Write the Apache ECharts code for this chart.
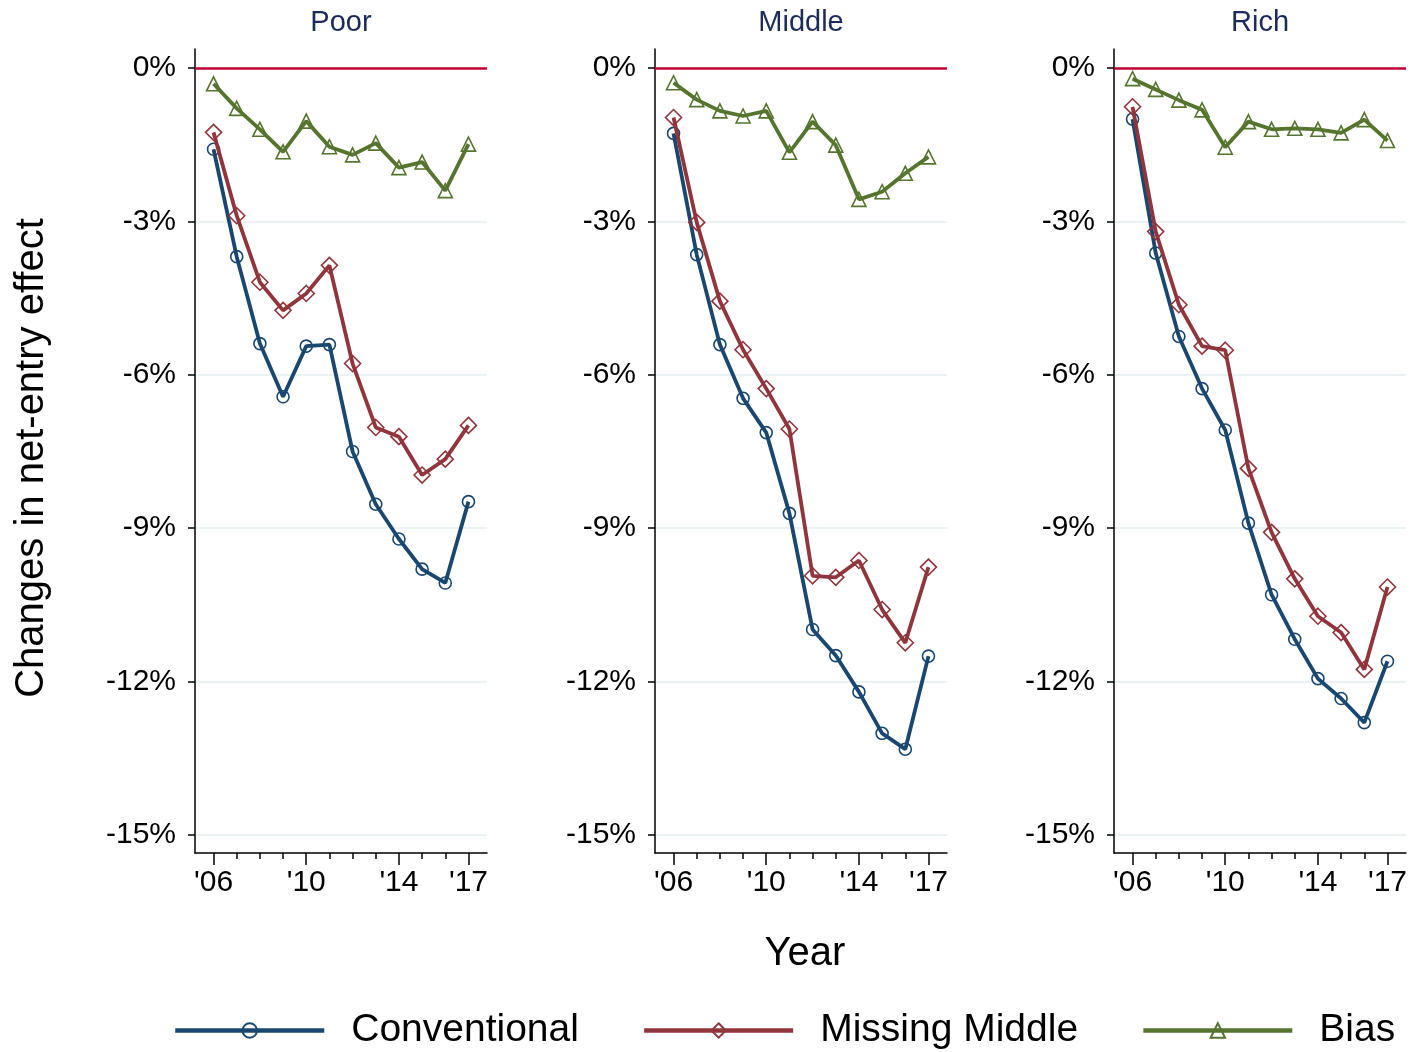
<!DOCTYPE html>
<html>
<head>
<meta charset="utf-8">
<title>Changes in net-entry effect</title>
<script src="https://cdn.jsdelivr.net/npm/echarts@6/dist/echarts.min.js"></script>
<style>
  html, body { margin: 0; padding: 0; background: #fff; }
  #chart { width: 1416px; height: 1052px; }
</style>
</head>
<body>
<div id="chart"></div>
<script>
// Years on the horizontal axis and the labelled ones
const years = [2006, 2007, 2008, 2009, 2010, 2011, 2012, 2013, 2014, 2015, 2016, 2017];
const yearLabels = [2006, 2010, 2014, 2017];
const yTicks = [-15, -12, -9, -6, -3, 0];

const panelNames = ['Poor', 'Middle', 'Rich'];
const seriesNames = ['Conventional', 'Missing Middle', 'Bias'];

// Changes in net-entry effect (%), by income group
const poorConventional   = [-1.59, -3.69, -5.39, -6.43, -5.44, -5.41, -7.50, -8.53, -9.21, -9.80, -10.07, -8.48];
const poorMissingMiddle  = [-1.26, -2.89, -4.19, -4.74, -4.41, -3.86, -5.78, -7.03, -7.21, -7.96, -7.65, -6.99];
const poorBias           = [-0.31, -0.79, -1.20, -1.64, -1.04, -1.54, -1.70, -1.47, -1.95, -1.84, -2.40, -1.49];

const middleConventional  = [-1.28, -3.65, -5.41, -6.46, -7.13, -8.71, -10.98, -11.49, -12.20, -13.01, -13.32, -11.50];
const middleMissingMiddle = [-0.97, -3.02, -4.56, -5.51, -6.27, -7.06, -9.93, -9.96, -9.63, -10.59, -11.24, -9.76];
const middleBias          = [-0.29, -0.62, -0.84, -0.94, -0.84, -1.65, -1.05, -1.51, -2.57, -2.42, -2.06, -1.74];

const richConventional  = [-1.00, -3.62, -5.25, -6.27, -7.08, -8.90, -10.30, -11.17, -11.94, -12.33, -12.80, -11.60];
const richMissingMiddle = [-0.76, -3.20, -4.63, -5.44, -5.52, -7.83, -9.08, -9.99, -10.72, -11.04, -11.76, -10.15];
const richBias          = [-0.21, -0.42, -0.63, -0.82, -1.55, -1.05, -1.20, -1.18, -1.20, -1.27, -1.01, -1.42];

const panelData = [
  [poorConventional, poorMissingMiddle, poorBias],
  [middleConventional, middleMissingMiddle, middleBias],
  [richConventional, richMissingMiddle, richBias]
];

const FONT = '"Liberation Sans", Arial, Helvetica, sans-serif';
const colors = ['#1a476f', '#90353b', '#55752f'];
const symbols = ['circle', 'diamond', 'triangle'];
const symbolSizes = [12, 16, 14];

const gridLefts = [195, 655, 1114];
const gridWidth = 292;
const gridTop = 49;
const gridHeight = 804;

const grids = [];
const xAxes = [];
const yAxes = [];
const series = [];
const titles = [];

panelNames.forEach((name, k) => {
  grids.push({ left: gridLefts[k], top: gridTop, width: gridWidth, height: gridHeight });

  titles.push({
    text: name,
    left: gridLefts[k] + gridWidth / 2,
    top: 8,
    padding: 0,
    textAlign: 'center',
    textStyle: { fontFamily: FONT, fontSize: 29, fontWeight: 'normal', color: '#1c2b58' }
  });

  // base axis: line and a small tick every year
  xAxes.push({
    type: 'value', gridIndex: k, position: 'bottom',
    min: 2005.2, max: 2017.8,
    axisLine: { show: true, onZero: false, lineStyle: { color: '#000', width: 1.5 } },
    axisTick: { show: true, customValues: years, length: 6, lineStyle: { color: '#000', width: 1.5 } },
    axisLabel: { show: false },
    splitLine: { show: false }
  });
  // labelled years with longer ticks
  xAxes.push({
    type: 'value', gridIndex: k, position: 'bottom',
    min: 2005.2, max: 2017.8,
    axisLine: { show: false, onZero: false },
    axisTick: { show: true, customValues: yearLabels, length: 12, lineStyle: { color: '#000', width: 1.5 } },
    axisLabel: {
      show: true, customValues: yearLabels, margin: 15,
      fontFamily: FONT, fontSize: 30, color: '#000',
      formatter: v => "'" + String(Math.round(v)).slice(2)
    },
    splitLine: { show: false }
  });

  yAxes.push({
    type: 'value', gridIndex: k,
    min: -15.35, max: 0.37,
    axisLine: { show: true, onZero: false, lineStyle: { color: '#000', width: 1.5 } },
    axisTick: { show: true, customValues: yTicks, length: 7, lineStyle: { color: '#000', width: 1.5 } },
    axisLabel: {
      show: true, customValues: yTicks, margin: 19,
      fontFamily: FONT, fontSize: 30, color: '#000',
      padding: [4, 0, 0, 0],
      formatter: v => Math.round(v) + '%'
    },
    splitLine: { show: true, lineStyle: { color: '#eaf2f3', width: 2 } }
  });

  panelData[k].forEach((vals, s) => {
    const item = {
      name: seriesNames[s],
      type: 'line',
      xAxisIndex: 2 * k,
      yAxisIndex: k,
      data: years.map((yr, i) => [yr, vals[i]]),
      symbol: symbols[s],
      symbolSize: symbolSizes[s],
      showAllSymbol: true,
      lineStyle: { color: colors[s], width: 3.8 },
      itemStyle: { color: 'rgba(255,255,255,0)', borderColor: colors[s], borderWidth: 1.6 },
      emphasis: { disabled: true },
      animation: false,
      z: 3 + s
    };
    if (s === 0) {
      // zero reference line
      item.markLine = {
        silent: true,
        symbol: 'none',
        label: { show: false },
        lineStyle: { color: '#c10534', width: 2.5, type: 'solid' },
        data: [{ yAxis: 0 }],
        animation: false
      };
    }
    series.push(item);
  });
});

const option = {
  backgroundColor: '#fff',
  animation: false,
  title: titles,
  grid: grids,
  xAxis: xAxes,
  yAxis: yAxes,
  series: series,
  legend: {
    data: seriesNames,
    left: 168,
    top: 1006,
    itemWidth: 149,
    itemHeight: 18,
    itemGap: 63,
    lineStyle: { width: 4.5 },
    itemStyle: { borderWidth: 2 },
    textStyle: { fontFamily: FONT, fontSize: 39, color: '#000', padding: [0, 0, 0, 22] },
    selectedMode: false
  },
  graphic: [
    {
      type: 'text', x: 32, y: 458, rotation: Math.PI / 2,
      style: {
        text: 'Changes in net-entry effect', fontFamily: FONT, fontSize: 40, fill: '#000',
        align: 'center', verticalAlign: 'middle'
      }
    },
    {
      type: 'text', x: 805, y: 954,
      style: {
        text: 'Year', fontFamily: FONT, fontSize: 40, fill: '#000',
        align: 'center', verticalAlign: 'middle'
      }
    }
  ]
};

const chart = echarts.init(document.getElementById('chart'), null, { renderer: 'canvas' });
chart.setOption(option);
</script>
</body>
</html>
